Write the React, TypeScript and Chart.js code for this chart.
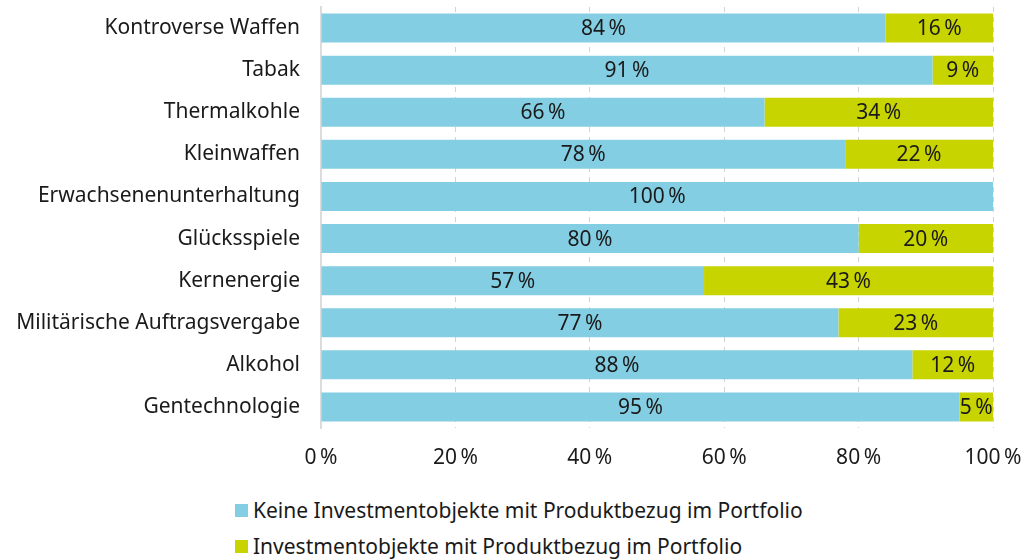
import React, { useEffect, useRef } from "react";
import { Chart, registerables } from "chart.js";

Chart.register(...registerables);

const categories = [
  "Kontroverse Waffen",
  "Tabak",
  "Thermalkohle",
  "Kleinwaffen",
  "Erwachsenenunterhaltung",
  "Glücksspiele",
  "Kernenergie",
  "Militärische Auftragsvergabe",
  "Alkohol",
  "Gentechnologie",
];
const keineValues = [84, 91, 66, 78, 100, 80, 57, 77, 88, 95];
const mitValues = [16, 9, 34, 22, 0, 20, 43, 23, 12, 5];
const xTicks = [0, 20, 40, 60, 80, 100];
const seriesNames = [
  "Keine Investmentobjekte mit Produktbezug im Portfolio",
  "Investmentobjekte mit Produktbezug im Portfolio",
];
const colors = ["#84CEE3", "#C8D400"];

const FONT = "'Noto Sans', 'Open Sans', sans-serif";

const labelPlugin = {
  id: "barLabels",
  afterDatasetsDraw(chart: any) {
    const ctx = chart.ctx;
    ctx.save();
    ctx.font = `21px ${FONT}`;
    ctx.fillStyle = "#1a1a1a";
    ctx.textAlign = "center";
    ctx.textBaseline = "middle";
    chart.data.datasets.forEach((ds: any, di: number) => {
      const meta = chart.getDatasetMeta(di);
      meta.data.forEach((el: any, i: number) => {
        const v = ds.data[i];
        if (!v) return;
        const cx = (el.x + el.base) / 2;
        ctx.fillText(`${v}\u2009%`, cx, el.y + 1);
      });
    });
    ctx.restore();
  },
};

export default function App() {
  const ref = useRef<HTMLCanvasElement | null>(null);
  useEffect(() => {
    if (!ref.current) return;
    const chart = new Chart(ref.current, {
      type: "bar",
      data: {
        labels: categories,
        datasets: [
          { label: seriesNames[0], data: keineValues, backgroundColor: colors[0], barPercentage: 0.69, categoryPercentage: 1 },
          { label: seriesNames[1], data: mitValues, backgroundColor: colors[1], barPercentage: 0.69, categoryPercentage: 1 },
        ],
      },
      options: {
        indexAxis: "y",
        animation: false,
        responsive: false,
        layout: { padding: { top: 7, right: 30, left: 0, bottom: 0 } },
        plugins: { legend: { display: false }, tooltip: { enabled: false } },
        scales: {
          x: {
            stacked: true,
            min: 0,
            max: 100,
            afterBuildTicks: (scale: any) => {
              scale.ticks = xTicks.map((v) => ({ value: v }));
            },
            afterFit: (scale: any) => {
              scale.height = 42;
              scale.paddingLeft = 0;
              scale.paddingRight = 0;
            },
            ticks: {
              padding: 17,
              color: "#1a1a1a",
              font: { family: FONT, size: 21 },
              callback: (v: any) => `${v}\u2009%`,
            },
            grid: {
              drawTicks: false,
              color: "#d2d2d2",
              lineWidth: 1,
            },
            border: { display: false, dash: [5, 5] },
          },
          y: {
            stacked: true,
            afterFit: (scale: any) => {
              scale.width = 321;
              scale.paddingTop = 0;
              scale.paddingBottom = 0;
            },
            ticks: {
              padding: 21,
              color: "#1a1a1a",
              font: { family: FONT, size: 21 },
            },
            grid: { display: false, drawTicks: false },
            border: { display: true, color: "#dcdcdc", width: 2 },
          },
        },
      } as any,
      plugins: [labelPlugin],
    });
    return () => chart.destroy();
  }, []);

  const legendItem = (i: number, top: number) => (
    <div
      key={i}
      style={{
        position: "absolute",
        left: 235,
        top,
        display: "flex",
        alignItems: "center",
        fontFamily: FONT,
        fontSize: 21,
        color: "#1a1a1a",
        whiteSpace: "nowrap",
        height: 26,
      }}
    >
      <span
        style={{
          display: "inline-block",
          width: 13,
          height: 13,
          background: colors[i],
          marginRight: 5,
        }}
      />
      <span>{seriesNames[i]}</span>
    </div>
  );

  return (
    <div style={{ position: "fixed", left: 0, top: 0, width: 1023, height: 560, background: "#fff" }}>
      <canvas ref={ref} width={1023} height={470} style={{ display: "block" }} />
      {legendItem(0, 497)}
      {legendItem(1, 533)}
    </div>
  );
}
